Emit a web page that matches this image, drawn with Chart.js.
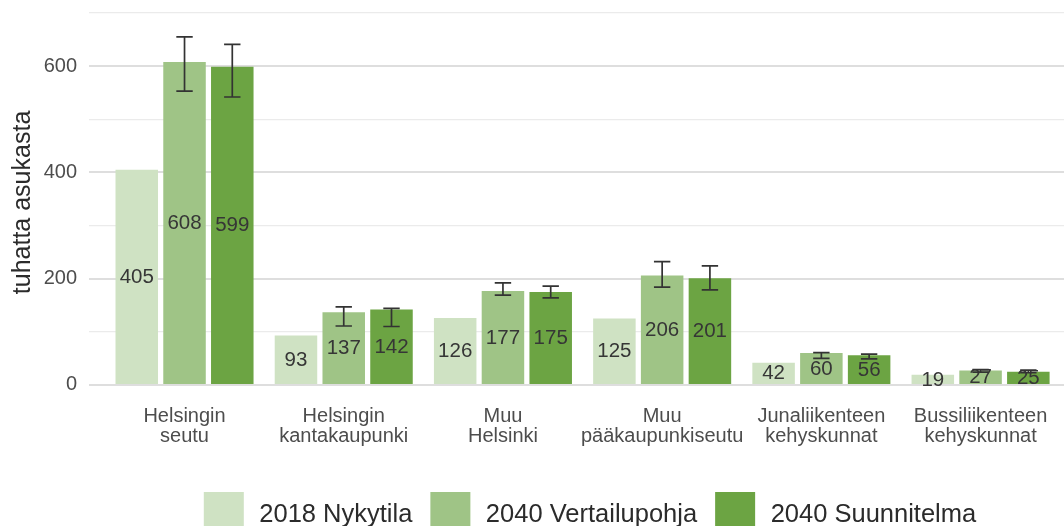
<!DOCTYPE html>
<html><head><meta charset="utf-8">
<script src="https://cdn.jsdelivr.net/npm/chart.js@4.4.1/dist/chart.umd.min.js"></script>
<style>html,body{margin:0;padding:0;background:#fff;overflow:hidden}#wrap{width:1064px;height:526px;position:relative}</style>
</head><body><div id="wrap"><canvas id="c"></canvas></div>
<script>
// ---- data ----
const categories = [
  ['Helsingin', 'seutu'],
  ['Helsingin', 'kantakaupunki'],
  ['Muu', 'Helsinki'],
  ['Muu', 'pääkaupunkiseutu'],
  ['Junaliikenteen', 'kehyskunnat'],
  ['Bussiliikenteen', 'kehyskunnat']
];
const seriesNames = ['2018 Nykytila', '2040 Vertailupohja', '2040 Suunnitelma'];
const nykytila    = [405, 93, 126, 125, 42, 19];
const vertailu    = [608, 137, 177, 206, 60, 27];
const suunnitelma = [599, 142, 175, 201, 56, 25];
const vertailuLow     = [553, 111, 169, 184, 50, 24];
const vertailuHigh    = [655, 147, 192, 232, 61, 29];
const suunnitelmaLow  = [542, 110, 164, 179, 49, 23];
const suunnitelmaHigh = [641, 144, 186, 224, 58, 28];
const yTicks = [0, 100, 200, 300, 400, 500, 600, 700];
const yTickLabels = ['0', '', '200', '', '400', '', '600', ''];

const colors = ['#cfe2c3', '#9fc486', '#6ca443'];
const FONT = '"Liberation Sans", Arial, Helvetica, sans-serif';
const seriesValues = [nykytila, vertailu, suunnitelma];
const errorRanges = [null, [vertailuLow, vertailuHigh], [suunnitelmaLow, suunnitelmaHigh]];

const datasets = seriesValues.map((vals, k) => ({
  label: seriesNames[k],
  data: vals.map((v, i) => ({x: i, y: v})),
  backgroundColor: colors[k],
  borderWidth: 0,
  categoryPercentage: 0.9,
  barPercentage: 0.89
}));

const overlayPlugin = {
  id: 'overlay',
  afterDatasetsDraw(chart) {
    const ctx = chart.ctx;
    const ys = chart.scales.y;
    chart.data.datasets.forEach((ds, di) => {
      const meta = chart.getDatasetMeta(di);
      meta.data.forEach((bar, i) => {
        const v = ds.data[i].y;
        ctx.save();
        ctx.font = '20.5px ' + FONT;
        ctx.fillStyle = '#363636';
        ctx.textAlign = 'center';
        ctx.textBaseline = 'middle';
        ctx.fillText(String(v), bar.x, ys.getPixelForValue(v / 2));
        ctx.restore();
      });
    });
    chart.data.datasets.forEach((ds, di) => {
      const er = errorRanges[di];
      if (!er) return;
      const meta = chart.getDatasetMeta(di);
      meta.data.forEach((bar, i) => {
        const y1 = ys.getPixelForValue(er[0][i]);
        const y2 = ys.getPixelForValue(er[1][i]);
        const hw = 8.2;
        ctx.save();
        ctx.strokeStyle = '#333333';
        ctx.lineWidth = 1.7;
        ctx.beginPath();
        ctx.moveTo(bar.x, y1); ctx.lineTo(bar.x, y2);
        ctx.moveTo(bar.x - hw, y1); ctx.lineTo(bar.x + hw, y1);
        ctx.moveTo(bar.x - hw, y2); ctx.lineTo(bar.x + hw, y2);
        ctx.stroke();
        ctx.restore();
      });
    });
  },
  afterDraw(chart) {
    const ctx = chart.ctx;
    ctx.save();
    ctx.font = '25.5px ' + FONT;
    const box = 40, gapText = 15.5, gapItem = 18;
    const widths = seriesNames.map(t => ctx.measureText(t).width);
    let total = 0;
    widths.forEach((w, k) => { total += box + gapText + w + (k < widths.length - 1 ? gapItem : 0); });
    let x = 590 - total / 2;
    const boxTop = 492, baseline = 521.5;
    seriesNames.forEach((t, k) => {
      ctx.fillStyle = colors[k];
      ctx.fillRect(x, boxTop, box, box);
      ctx.fillStyle = '#2b2b2b';
      ctx.textAlign = 'left';
      ctx.textBaseline = 'alphabetic';
      ctx.fillText(t, x + box + gapText, baseline);
      x += box + gapText + widths[k] + gapItem;
    });
    ctx.restore();
  }
};

new Chart(document.getElementById('c'), {
  type: 'bar',
  data: { datasets },
  plugins: [overlayPlugin],
  options: {
    responsive: true,
    maintainAspectRatio: false,
    animation: false,
    devicePixelRatio: 1,
    layout: { padding: { top: 2.4, left: 0, right: 0, bottom: 0 } },
    plugins: { legend: { display: false }, tooltip: { enabled: false } },
    scales: {
      x: {
        type: 'linear',
        min: -0.6,
        max: 5.524,
        offset: false,
        grid: { display: false, drawTicks: false },
        border: { display: false },
        afterBuildTicks(scale) { scale.ticks = categories.map((c, i) => ({value: i})); },
        afterFit(scale) { scale.height = 123.5; scale.paddingLeft = 0; scale.paddingRight = 0; },
        ticks: {
          autoSkip: false,
          maxRotation: 0,
          padding: 4,
          color: '#4d4d4d',
          font: { family: FONT, size: 20, lineHeight: 1.0 },
          callback: (v) => categories[v]
        }
      },
      y: {
        min: -33,
        max: 720,
        afterBuildTicks(scale) { scale.ticks = yTicks.map(v => ({value: v})); },
        afterFit(scale) { scale.width = 89; scale.paddingTop = 0; scale.paddingBottom = 0; },
        grid: {
          drawTicks: false,
          color: (c) => (c.tick && c.tick.value % 200 === 0) ? '#dedede' : '#ebebeb',
          lineWidth: (c) => (c.tick && c.tick.value % 200 === 0) ? 2 : 1.3
        },
        border: { display: false },
        ticks: {
          padding: 12,
          color: '#4d4d4d',
          font: { family: FONT, size: 20 },
          callback: (v) => yTickLabels[yTicks.indexOf(v)]
        },
        title: {
          display: true,
          text: 'tuhatta asukasta',
          color: '#2b2b2b',
          font: { family: FONT, size: 25, lineHeight: 1.2 },
          padding: { top: 8, bottom: 0 }
        }
      }
    }
  }
});
</script>
</body></html>
